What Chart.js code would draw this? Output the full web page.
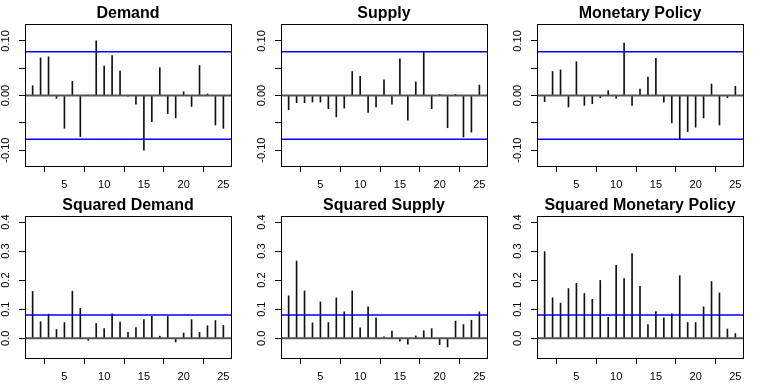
<!DOCTYPE html>
<html><head><meta charset="utf-8">
<script src="https://cdn.jsdelivr.net/npm/chart.js@4.4.1/dist/chart.umd.min.js"></script>
<style>
html,body{margin:0;padding:0;background:#fff;}
body{width:768px;height:384px;position:relative;overflow:hidden;}
canvas{position:absolute;}
</style></head><body>
<script>
// ---------- data ----------
const lags = [1,2,3,4,5,6,7,8,9,10,11,12,13,14,15,16,17,18,19,20,21,22,23,24,25];
const demand = [0.018,0.069,0.071,-0.005,-0.060,0.026,-0.075,0.001,0.100,0.054,0.073,0.045,-0.001,-0.016,-0.100,-0.048,0.051,-0.033,-0.041,0.007,-0.020,0.055,0.003,-0.054,-0.060];
const supply = [-0.026,-0.013,-0.013,-0.012,-0.012,-0.024,-0.039,-0.023,0.044,0.035,-0.031,-0.021,0.029,-0.016,0.067,-0.045,0.025,0.079,-0.024,0.002,-0.059,0.002,-0.076,-0.067,0.019];
const monetary = [-0.011,0.044,0.047,-0.021,0.062,-0.018,-0.015,-0.004,0.009,-0.005,0.096,-0.018,0.012,0.034,0.068,-0.012,-0.050,-0.080,-0.066,-0.058,-0.041,0.021,-0.054,-0.004,0.017];
const sqDemand = [0.161,0.057,0.083,0.030,0.054,0.162,0.103,-0.007,0.051,0.033,0.084,0.056,0.020,0.037,0.064,0.075,0.007,0.075,-0.013,0.018,0.064,0.020,0.043,0.061,0.044];
const sqSupply = [0.146,0.266,0.163,0.053,0.125,0.054,0.139,0.091,0.163,0.036,0.108,0.070,0.005,0.025,-0.010,-0.020,0.008,0.026,0.033,-0.022,-0.030,0.059,0.047,0.062,0.091];
const sqMonetary = [0.298,0.139,0.121,0.171,0.189,0.154,0.134,0.199,0.072,0.251,0.205,0.291,0.179,0.047,0.092,0.070,0.084,0.215,0.054,0.054,0.108,0.195,0.156,0.032,0.016];
const titles = ['Demand','Supply','Monetary Policy','Squared Demand','Squared Supply','Squared Monetary Policy'];
const confLimit = 0.08;
const xTicks = [5,10,15,20,25];
const xRange = [0.04,25.96];
const yTicksTop = [-0.10,-0.05,0,0.05,0.10];
const yLabelsTop = ['-0.10','','0.00','','0.10'];
const yRangeTop = [-0.129,0.131];
const yTicksBottom = [0,0.1,0.2,0.3,0.4];
const yLabelsBottom = ['0.0','0.1','0.2','0.3','0.4'];
const yRangeBottom = [-0.068,0.4207];

// ---------- drawing ----------
const FONT = "'Liberation Sans', Arial, Helvetica, sans-serif";
const boxPlugin = {
  id:'box',
  afterDraw(chart){
    const a = chart.chartArea, c = chart.ctx;
    c.save(); c.strokeStyle='#000'; c.lineWidth=1;
    c.strokeRect(Math.round(a.left)+0.5, Math.round(a.top)+0.5, Math.round(a.right-a.left), Math.round(a.bottom-a.top));
    c.restore();
  }
};

const series = [demand, supply, monetary, sqDemand, sqSupply, sqMonetary];
series.forEach((vals, i) => {
  const col = i % 3, row = Math.floor(i / 3);
  const top = row === 0;
  const yTicks = top ? yTicksTop : yTicksBottom;
  const yLabels = top ? yLabelsTop : yLabelsBottom;
  const yRange = top ? yRangeTop : yRangeBottom;
  const cv = document.createElement('canvas');
  cv.width = 256; cv.height = 192;
  cv.style.left = (col*256)+'px'; cv.style.top = (row*192)+'px';
  cv.style.width='256px'; cv.style.height='192px';
  document.body.appendChild(cv);
  const datasets = [
    {type:'bar', data: lags.map((l,k)=>({x:l,y:vals[k]})), backgroundColor:'#111', borderWidth:0, barThickness:1, order:3},
    {type:'line', data:[{x:xRange[0],y:0},{x:xRange[1],y:0}], borderColor:'#555', borderWidth:2, pointRadius:0, order:2},
    {type:'line', data:[{x:xRange[0],y:confLimit},{x:xRange[1],y:confLimit}], borderColor:'#0000ff', borderWidth:1.5, pointRadius:0, order:1},
  ];
  if (top) datasets.push({type:'line', data:[{x:xRange[0],y:-confLimit},{x:xRange[1],y:-confLimit}], borderColor:'#0000ff', borderWidth:1.5, pointRadius:0, order:1});
  new Chart(cv, {
    type:'bar',
    data:{datasets},
    plugins:[boxPlugin],
    options:{
      responsive:false, animation:false, devicePixelRatio:1,
      layout:{padding:{left:0,right:25,top:0,bottom:0}},
      plugins:{
        legend:{display:false}, tooltip:{enabled:false},
        title:{display:true, text:titles[i], fullSize:false, color:'#000',
          font:{family:FONT, size:16, weight:'bold', lineHeight:1.2}, padding:{top:3.5,bottom:1.3}}
      },
      scales:{
        x:{type:'linear', min:xRange[0], max:xRange[1], offset:false,
          afterBuildTicks: s => { s.ticks = xTicks.map(v=>({value:v})); },
          afterFit: s => { s.height = 26; },
          grid:{drawOnChartArea:false, drawTicks:true, tickLength:6, color:'#000'},
          border:{display:false},
          ticks:{autoSkip:false, maxRotation:0, color:'#000', padding:6, font:{family:FONT,size:11},
            callback: v => String(v)}
        },
        y:{type:'linear', min:yRange[0], max:yRange[1],
          afterBuildTicks: s => { s.ticks = yTicks.map(v=>({value:v})); },
          afterFit: s => { s.width = 25; },
          grid:{drawOnChartArea:false, drawTicks:true, tickLength:6, color:'#000'},
          border:{display:false},
          ticks:{autoSkip:false, minRotation:90, maxRotation:90, crossAlign:'center',
            padding: top ? 0.2 : 5.1, color:'#000', font:{family:FONT,size:11},
            callback: (v, idx) => yLabels[idx]}
        }
      }
    }
  });
});
</script>
</body></html>
